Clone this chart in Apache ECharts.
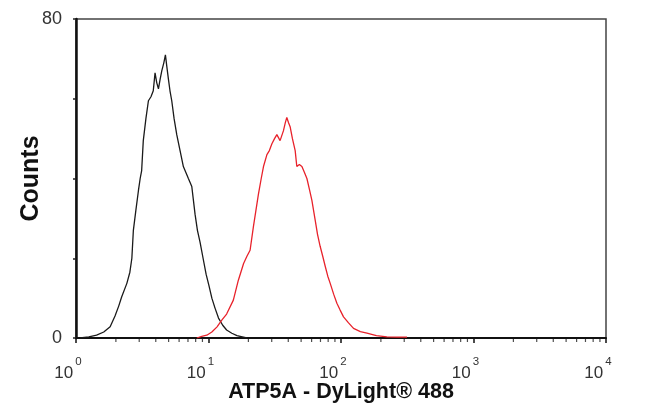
<!DOCTYPE html>
<html>
<head>
<meta charset="utf-8">
<script src="https://cdn.jsdelivr.net/npm/echarts@6/dist/echarts.min.js"></script>
<style>
html,body{margin:0;padding:0;background:#fff;}
#chart{width:650px;height:415px;}
</style>
</head>
<body>
<div id="chart"></div>
<script>
// Isotype control (black)
const controlX = [1.07, 1.25, 1.43, 1.62, 1.81, 1.97, 2.1, 2.21, 2.42, 2.55, 2.64, 2.71, 2.83, 2.96, 3.05, 3.13, 3.22, 3.37, 3.52, 3.68, 3.83, 3.95, 4.07, 4.19, 4.32, 4.44, 4.6, 4.73, 4.85, 4.98, 5.12, 5.28, 5.5, 5.76, 6.1, 6.46, 6.75, 7.05, 7.48, 7.92, 8.25, 8.64, 9.1, 9.59, 10.1, 10.6, 11.2, 11.9, 12.8, 13.7, 15, 16.4, 18, 19.5];
const controlY = [0, 0.3, 0.7, 1.5, 2.8, 5.5, 8, 10.3, 13.7, 16.5, 20, 27, 32, 37, 40, 42, 49.5, 55, 59.5, 60.5, 62, 66.5, 64, 62.5, 65, 67, 69, 71, 68, 65, 62, 59.5, 55, 51, 47, 43, 41.5, 40, 38, 31, 27, 24, 20, 16, 13, 10, 7.5, 5, 3.2, 2, 1.2, 0.6, 0.3, 0];
// ATP5A stained (red)
const stainX = [8.16, 8.9, 9.71, 10.6, 11.6, 12.6, 13.7, 15.4, 16.8, 18.4, 19.5, 20.6, 21.8, 22.8, 23.8, 25, 26, 27.6, 28.8, 30.1, 31.5, 32.8, 34.7, 36.8, 38, 39, 40.2, 41.3, 43, 45.1, 46.4, 48.5, 50.7, 53, 55.3, 58, 60.3, 63.9, 66.5, 69.6, 72.8, 76, 79.5, 82.9, 88, 93.1, 98.5, 104.5, 114, 124.3, 140, 157, 185, 222, 265, 315];
const stainY = [0, 0.4, 0.7, 1.5, 2.8, 4.5, 6, 9.5, 14.5, 18.7, 20.5, 22, 27.8, 32, 36, 40, 43, 46, 47, 48.7, 50, 51, 49.5, 52, 54, 55.3, 54, 53, 50, 47, 43, 43.5, 43, 41.5, 40, 37, 34.5, 29.5, 26, 23, 20.5, 18, 15.5, 13.7, 11, 8.7, 7, 5.3, 3.8, 2.4, 1.6, 1.2, 0.6, 0.3, 0.2, 0.2];
// Axis ticks
const minorTicks = [2,3,4,5,6,7,8,9,20,30,40,50,60,70,80,90,200,300,400,500,600,700,800,900,2000,3000,4000,5000,6000,7000,8000,9000];
const yLabelValues = [0, 80];

const pairs = (xs, ys) => xs.map((x, i) => [x, ys[i]]);

const chart = echarts.init(document.getElementById('chart'), null, {renderer: 'canvas'});
chart.setOption({
  animation: false,
  backgroundColor: '#fff',
  grid: {left: 76, right: 44, top: 19, bottom: 77, show: true, borderColor: '#444', borderWidth: 1.5, backgroundColor: 'transparent'},
  xAxis: {
    type: 'log', logBase: 10, min: 1, max: 10000,
    name: 'ATP5A - DyLight® 488', nameLocation: 'middle', nameGap: 43, nameMoveOverlap: false,
    nameTextStyle: {fontFamily: 'Liberation Sans', fontWeight: 'bold', fontSize: 21.5, color: '#111'},
    axisLine: {show: true, lineStyle: {color: '#111', width: 2}},
    axisTick: {show: true, length: 5, lineStyle: {color: '#111', width: 1.5}},
    splitLine: {show: false},
    axisLabel: {
      margin: 18, padding: [0, 16, 0, 0],
      formatter: v => '{b|10}{s|' + Math.round(Math.log10(v)) + '}',
      rich: {
        b: {fontFamily: 'Liberation Sans', fontSize: 17, color: '#333', verticalAlign: 'bottom'},
        s: {fontFamily: 'Liberation Sans', fontSize: 11.5, color: '#333', verticalAlign: 'top', padding: [0, 0, 14, 2]}
      }
    }
  },
  yAxis: {
    type: 'value', min: 0, max: 80, interval: 20,
    name: 'Counts', nameLocation: 'middle', nameGap: 32, nameRotate: 90, nameMoveOverlap: false,
    nameTextStyle: {fontFamily: 'Liberation Sans', fontWeight: 'bold', fontSize: 25, color: '#111'},
    axisLine: {show: true, lineStyle: {color: '#111', width: 2.5}},
    axisTick: {show: true, length: 3, lineStyle: {color: '#222', width: 1.5}},
    splitLine: {show: false},
    axisLabel: {
      margin: 14, fontFamily: 'Liberation Sans', fontSize: 18, color: '#333',
      formatter: v => yLabelValues.indexOf(v) >= 0 ? String(v) : ''
    }
  },
  series: [{
    type: 'scatter', data: minorTicks.map(v => [v, 0]), symbol: 'rect',
    symbolSize: [1.2, 3], symbolOffset: [0, 2.5], clip: false, silent: true,
    itemStyle: {color: '#222'}, z: 1
  }, {
    type: 'line', data: pairs(controlX, controlY), showSymbol: false,
    lineStyle: {color: '#1a1a1a', width: 1.3}, z: 3
  }, {
    type: 'line', data: pairs(stainX, stainY), showSymbol: false,
    lineStyle: {color: '#e8222b', width: 1.3}, z: 3
  }]
});
</script>
</body>
</html>
